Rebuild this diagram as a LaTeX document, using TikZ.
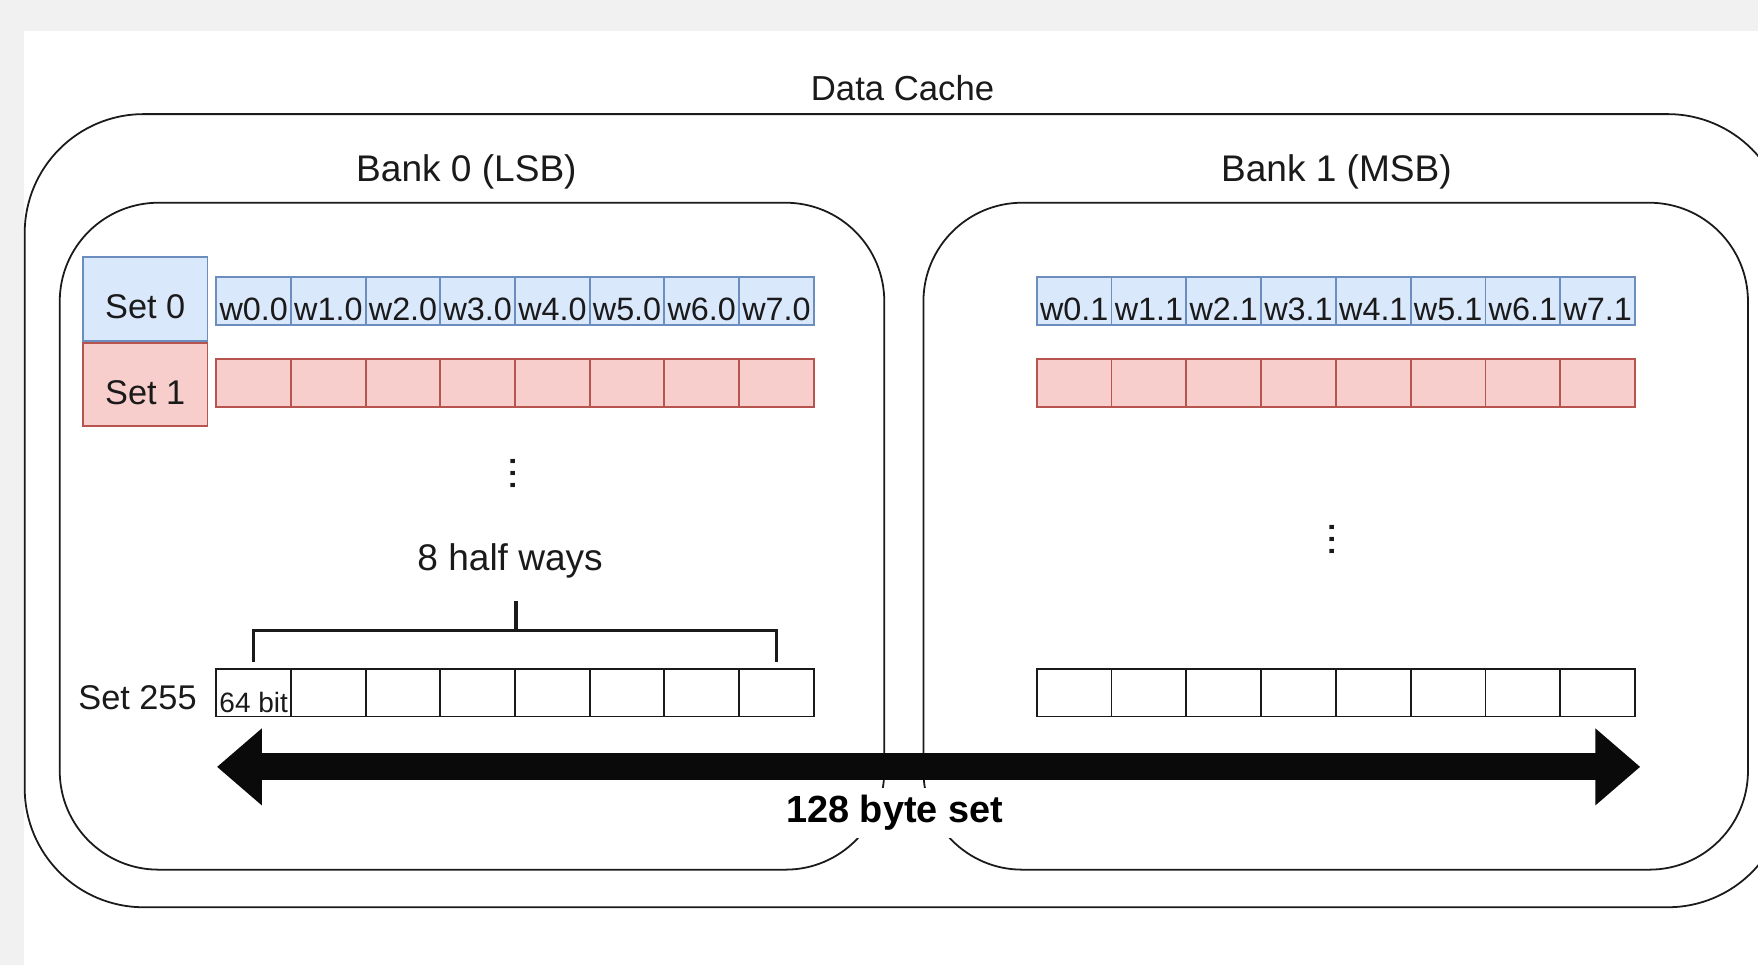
\documentclass[tikz,border=0pt]{standalone}
\usepackage{fontspec}
\setmainfont{Liberation Sans}
\usetikzlibrary{arrows.meta}
\usetikzlibrary{positioning}
\definecolor{pagegray}{HTML}{F1F1F1}
\definecolor{setblue}{HTML}{DAE8FC}
\definecolor{setbluedraw}{HTML}{6C8EBF}
\definecolor{setred}{HTML}{F8CECC}
\definecolor{setreddraw}{HTML}{B85450}
\definecolor{inkgray}{HTML}{1A1A1A}
\tikzset{cachebox/.style = {draw=inkgray, line width=0.45pt, rounded corners=1.06cm,
                            minimum width=15.705cm, minimum height=7.07cm, inner sep=0pt},
         bankbox/.style = {draw=inkgray, line width=0.45pt, rounded corners=0.88cm,
                           minimum width=7.35cm, minimum height=5.945cm, inner sep=0pt},
         title/.style = {text=inkgray, inner sep=0pt, font=\fontsize{9.4}{11}\selectfont},
         setlbl/.style = {text=inkgray, inner sep=0pt, font=\fontsize{8.7}{10}\selectfont},
         cell/.style = {line width=0.45pt, minimum width=0.667cm, minimum height=0.43cm,
                        inner sep=0pt, text=inkgray, text height=1.0em, text depth=0pt,
                        font=\fontsize{8.2}{10}\selectfont},
         blueway/.style = {cell, draw=setbluedraw, fill=setblue},
         redway/.style = {cell, draw=setreddraw, fill=setred},
         plainway/.style = {cell, draw=inkgray, fill=white, minimum height=0.42cm},
         setbox/.style = {draw=#1draw, fill=#1, line width=0.45pt, minimum width=1.11cm,
                          minimum height=0.745cm, inner sep=0pt, text=inkgray,
                          text height=1.0em, text depth=0pt, font=\fontsize{8.7}{10}\selectfont},
         moredots/.style = {rotate=90, inner sep=0pt, text=inkgray, font=\fontsize{11}{12}\selectfont},
         bracketline/.style = {draw=inkgray, line width=0.8pt},
         sizearrow/.style = {line width=0.24cm, draw=black!96,
                             {Triangle[length=0.40cm, width=0.66cm]}-{Triangle[length=0.40cm, width=0.66cm]}}}

\begin{document}
\begin{tikzpicture}[x=0.01cm, y=-0.01cm]
  \useasboundingbox (0,0) rectangle (1568,861);
  \clip (0,0) rectangle (1568,861);
  \fill[pagegray] (0,0) rectangle (1568,861);
  \fill[white] (21,28) rectangle (1568,861);

  % cache and its two banks
  \node[cachebox] (cache) at (807.75,455.5) {};
  \node[setlbl, font=\fontsize{8.8}{10}\selectfont] (cachelbl) at (805,79) {Data Cache};
  \node[bankbox] (bank0) at (421,478.25) {};
  \node[bankbox] (bank1) at (1191.35,478.25) {};
  \node[title] (bank0lbl) at (416,153) {Bank 0 (LSB)};
  \node[title] (bank1lbl) at (1192,153) {Bank 1 (MSB)};

  % sets
  \node[setbox=setblue] (set0) at (129.5,266.75) {Set 0};
  \node[setbox=setred, below=0pt of set0] (set1) {Set 1};
  \foreach \i in {0,...,7} {
    \node[blueway] (wl\i) at ({226.3+66.6*\i},268.5) {w\i.0};
    \node[redway] (rl\i) at ({226.3+66.6*\i},341.5) {};
    \node[plainway] (bl\i) at ({226.3+66.6*\i},618) {};
    \node[blueway] (wr\i) at ({958.1+66.7*\i},268.5) {w\i.1};
    \node[redway] (rr\i) at ({958.1+66.7*\i},341.5) {};
    \node[plainway] (br\i) at ({958.1+66.7*\i},618) {};
  }
  \node[setlbl, left=0.16cm of bl0, yshift=-0.045cm] (set255) {Set 255};
  \node[anchor=south, inner sep=1pt, text=inkgray, font=\fontsize{7.1}{8}\selectfont] (bitlbl) at (bl0.south) {64 bit};

  \node[moredots] (dots0) at (458,422) {...};
  \node[moredots] (dots1) at (1188,481) {...};

  % 8 half ways bracket
  \node[title] (wayslbl) at (455,500) {8 half ways};
  \coordinate (bmid) at ([yshift=0.34cm]bl3.north east);
  \coordinate (btop) at ([yshift=0.26cm]bmid);
  \draw[bracketline] ([yshift=0.06cm]bl0.north) |- (bmid) -| ([yshift=0.06cm]bl7.north);
  \draw[bracketline] (bmid) -- (btop);

  % whole set
  \coordinate (aleft) at (193.5,684);
  \coordinate (aright) at (1463,684);
  \draw[sizearrow] (aleft) -- (aright);
  \node[fill=white, inner xsep=1pt, inner ysep=0pt, minimum height=0.44cm, text=black,
        font=\bfseries\fontsize{9.6}{11}\selectfont] (setsize) at (798,725) {128 byte set};
\end{tikzpicture}
\end{document}
